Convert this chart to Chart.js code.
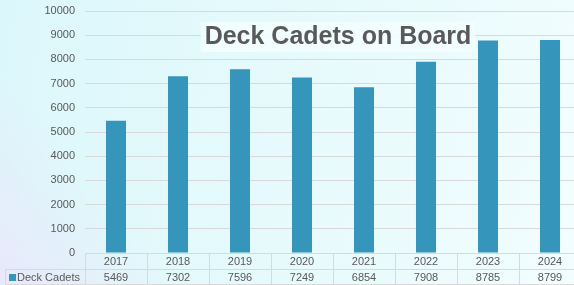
<!DOCTYPE html>
<html>
<head>
<meta charset="utf-8">
<script src="https://cdn.jsdelivr.net/npm/chart.js@4"></script>
<style>
    html, body {
        margin: 0;
        padding: 0;
        width: 574px;
        height: 285px;
        overflow: hidden;
    }
    body {
        background:
            linear-gradient(50deg, rgba(232, 232, 250, 1) 0%, rgba(232, 232, 250, 0) 22%),
            linear-gradient(100deg, #dcf7fb 0%, #e6fafc 50%, #f2fdfe 100%);
    }
    #wrap {
        position: relative;
        width: 581px;
        height: 285px;
    }
</style>
</head>
<body>
<div id="wrap">
    <canvas id="cadetsChart" width="581" height="285"></canvas>
</div>
<script>
// Данные графика
const years = ['2017', '2018', '2019', '2020', '2021', '2022', '2023', '2024'];
const deckCadets = [5469, 7302, 7596, 7249, 6854, 7908, 8785, 8799];
const seriesName = 'Deck Cadets';
const chartTitle = 'Deck Cadets on Board';

const barColor = '#3595bb';
const textColor = '#595959';
const lineColor = '#d9d9d9';
const fontFamily = '"Liberation Sans", Arial, sans-serif';

// Таблица данных под графиком
const dataTablePlugin = {
    id: 'dataTable',
    afterDraw(chart) {
        const ctx = chart.ctx;
        const x = chart.scales.x;
        const area = chart.chartArea;
        const step = (area.right - area.left) / years.length;
        const rowH = 16;
        const top = area.bottom;

        ctx.save();
        ctx.strokeStyle = lineColor;
        ctx.lineWidth = 1;
        ctx.beginPath();
        // горизонтальные линии
        ctx.moveTo(area.left, top + 0.5);
        ctx.lineTo(area.right, top + 0.5);
        ctx.moveTo(5, top + rowH + 0.5);
        ctx.lineTo(area.right, top + rowH + 0.5);
        ctx.moveTo(5, top + 2 * rowH - 0.5);
        ctx.lineTo(area.right, top + 2 * rowH - 0.5);
        // вертикальные линии
        for (let i = 0; i <= years.length; i++) {
            const lx = Math.round(area.left + i * step) + 0.5;
            ctx.moveTo(lx, top);
            ctx.lineTo(lx, top + 2 * rowH);
        }
        ctx.moveTo(5.5, top + rowH);
        ctx.lineTo(5.5, top + 2 * rowH);
        ctx.stroke();

        ctx.font = '11px ' + fontFamily;
        ctx.fillStyle = textColor;
        ctx.textAlign = 'center';
        ctx.textBaseline = 'middle';
        years.forEach((year, i) => {
            const cx = x.getPixelForValue(i);
            ctx.fillText(year, cx, top + rowH / 2 + 1);
            ctx.fillText(String(deckCadets[i]), cx, top + rowH * 1.5 + 1);
        });

        // легенда в ячейке
        ctx.fillStyle = barColor;
        ctx.fillRect(9, top + rowH + 5, 7, 7);
        ctx.fillStyle = textColor;
        ctx.textAlign = 'left';
        ctx.fillText(seriesName, 17, top + rowH * 1.5 + 1);
        ctx.restore();
    }
};

// Заголовок поверх области графика
const overlayTitlePlugin = {
    id: 'overlayTitle',
    afterDraw(chart) {
        const ctx = chart.ctx;
        ctx.save();
        ctx.font = 'bold 25px ' + fontFamily;
        const w = ctx.measureText(chartTitle).width;
        const cx = 338;
        const cy = 37;
        ctx.fillStyle = 'rgba(242, 253, 254, 0.9)';
        ctx.fillRect(cx - w / 2 - 4, cy - 15, w + 8, 30);
        ctx.fillStyle = textColor;
        ctx.textAlign = 'center';
        ctx.textBaseline = 'middle';
        ctx.fillText(chartTitle, cx, cy);
        ctx.restore();
    }
};

const ctx = document.getElementById('cadetsChart').getContext('2d');
new Chart(ctx, {
    type: 'bar',
    data: {
        labels: years,
        datasets: [{
            label: seriesName,
            data: deckCadets,
            backgroundColor: barColor,
            borderWidth: 0,
            categoryPercentage: 1,
            barPercentage: 0.323
        }]
    },
    options: {
        responsive: false,
        animation: false,
        layout: {
            padding: { top: 11, bottom: 32, left: 0, right: 0 }
        },
        plugins: {
            legend: { display: false },
            title: { display: false },
            tooltip: { enabled: false }
        },
        scales: {
            x: {
                display: false,
                offset: true
            },
            y: {
                min: 0,
                max: 10000,
                afterFit(scale) {
                    scale.width = 85;
                    scale.paddingTop = 0;
                    scale.paddingBottom = 0;
                },
                ticks: {
                    stepSize: 1000,
                    padding: 10,
                    color: textColor,
                    font: { family: fontFamily, size: 11 },
                    callback: (value) => String(value)
                },
                grid: {
                    color: lineColor,
                    drawTicks: false
                },
                border: { display: false }
            }
        }
    },
    plugins: [dataTablePlugin, overlayTitlePlugin]
});
</script>
</body>
</html>
